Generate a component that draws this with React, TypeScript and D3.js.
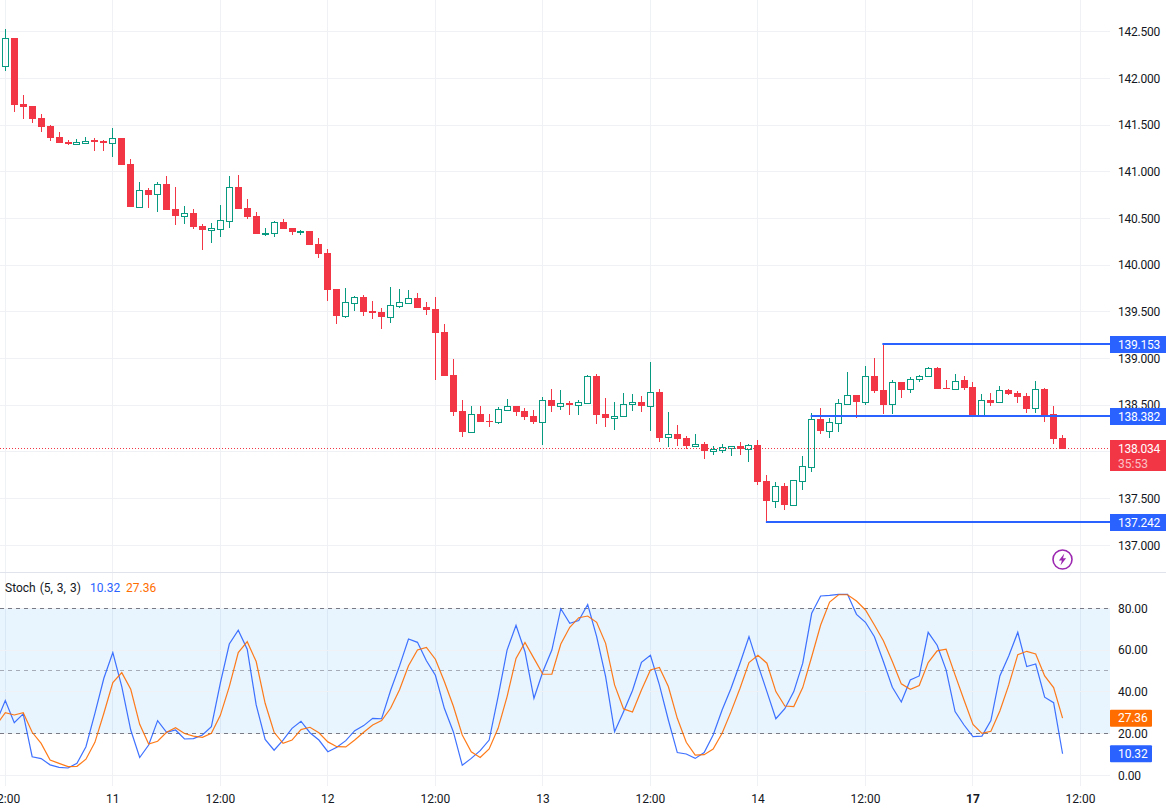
import React, { useEffect, useRef } from 'react';
import * as d3 from 'd3';

const WIDTH = 1166;
const HEIGHT = 809;
const AXIS_X = 1110;

const opens = [
  142.136, 142.432, 141.726, 141.704, 141.576, 141.49, 141.372, 141.319, 141.301, 141.312,
  141.34, 141.329, 141.312, 141.362, 141.083, 140.626, 140.805, 140.758, 140.869, 140.601,
  140.53, 140.559, 140.419, 140.38, 140.387, 140.477, 140.837, 140.612, 140.527, 140.334,
  140.341, 140.462, 140.398, 140.359, 140.366, 140.227, 140.131, 139.745, 139.46, 139.599,
  139.66, 139.51, 139.499, 139.449, 139.567, 139.599, 139.649, 139.553, 139.531, 139.285,
  138.825, 138.439, 138.218, 138.407, 138.332, 138.325, 138.453, 138.493, 138.439, 138.386,
  138.325, 138.557, 138.496, 138.525, 138.507, 138.528, 138.814, 138.407, 138.367, 138.382,
  138.51, 138.535, 138.496, 138.642, 138.157, 138.193, 138.15, 138.068, 138.085, 138.014,
  138.025, 138.046, 138.064, 138.035, 138.075, 137.689, 137.479, 137.636, 137.436, 137.693,
  137.843, 138.353, 138.228, 138.314, 138.517, 138.61, 138.539, 138.81, 138.66, 138.51,
  138.746, 138.671, 138.785, 138.817, 138.899, 138.681, 138.678, 138.767, 138.696, 138.385,
  138.557, 138.532, 138.664, 138.631, 138.599, 138.467, 138.674, 138.407, 138.15,
];
const highs = [
  142.525, 142.432, 141.822, 141.704, 141.619, 141.501, 141.426, 141.34, 141.351, 141.372,
  141.362, 141.34, 141.469, 141.362, 141.137, 140.89, 140.826, 140.89, 140.955, 140.837,
  140.634, 140.601, 140.441, 140.452, 140.644, 140.955, 140.965, 140.709, 140.569, 140.398,
  140.473, 140.494, 140.398, 140.377, 140.366, 140.291, 140.174, 139.745, 139.756, 139.67,
  139.681, 139.617, 139.542, 139.767, 139.745, 139.735, 139.702, 139.606, 139.66, 139.371,
  138.996, 138.557, 138.493, 138.493, 138.407, 138.482, 138.568, 138.493, 138.471, 138.45,
  138.589, 138.675, 138.664, 138.546, 138.557, 138.825, 138.835, 138.578, 138.535, 138.632,
  138.621, 138.599, 138.963, 138.674, 138.428, 138.289, 138.171, 138.193, 138.107, 138.064,
  138.085, 138.061, 138.107, 138.085, 138.128, 137.754, 137.679, 137.668, 137.7, 137.957,
  138.417, 138.471, 138.364, 138.567, 138.856, 138.61, 138.921, 139.006, 139.156, 138.767,
  138.746, 138.799, 138.824, 138.906, 138.906, 138.771, 138.835, 138.813, 138.749, 138.621,
  138.631, 138.706, 138.674, 138.653, 138.631, 138.76, 138.685, 138.492, 138.182,
];
const lows = [
  142.083, 141.644, 141.569, 141.526, 141.429, 141.333, 141.308, 141.287, 141.301, 141.297,
  141.222, 141.222, 141.162, 141.073, 140.623, 140.626, 140.612, 140.569, 140.591, 140.43,
  140.441, 140.387, 140.163, 140.237, 140.302, 140.398, 140.601, 140.494, 140.334, 140.312,
  140.302, 140.387, 140.323, 140.327, 140.216, 140.077, 139.617, 139.371, 139.435, 139.51,
  139.456, 139.424, 139.317, 139.381, 139.542, 139.599, 139.542, 139.467, 138.771, 138.814,
  138.386, 138.161, 138.204, 138.321, 138.268, 138.3, 138.453, 138.386, 138.343, 138.3,
  138.075, 138.428, 138.45, 138.396, 138.396, 138.528, 138.3, 138.268, 138.235, 138.382,
  138.439, 138.428, 138.225, 138.107, 138.053, 138.064, 138.032, 138.053, 137.925, 137.968,
  137.989, 137.957, 137.968, 137.893, 137.647, 137.242, 137.4, 137.379, 137.436, 137.593,
  137.786, 138.193, 138.15, 138.214, 138.517, 138.36, 138.507, 138.635, 138.407, 138.407,
  138.578, 138.631, 138.753, 138.799, 138.674, 138.674, 138.678, 138.664, 138.378, 138.385,
  138.492, 138.532, 138.61, 138.524, 138.417, 138.417, 138.321, 138.085, 138.034,
];
const closes = [
  142.429, 141.719, 141.693, 141.565, 141.479, 141.362, 141.308, 141.297, 141.319, 141.333,
  141.319, 141.308, 141.358, 141.073, 140.623, 140.801, 140.751, 140.865, 140.591, 140.527,
  140.555, 140.409, 140.377, 140.398, 140.48, 140.833, 140.601, 140.516, 140.334, 140.344,
  140.459, 140.387, 140.355, 140.37, 140.216, 140.12, 139.735, 139.456, 139.603, 139.656,
  139.499, 139.488, 139.445, 139.57, 139.603, 139.645, 139.542, 139.521, 139.274, 138.814,
  138.428, 138.214, 138.403, 138.321, 138.321, 138.457, 138.489, 138.428, 138.375, 138.321,
  138.553, 138.493, 138.521, 138.503, 138.532, 138.814, 138.396, 138.364, 138.382, 138.51,
  138.532, 138.492, 138.639, 138.15, 138.189, 138.139, 138.064, 138.085, 138.011, 138.032,
  138.05, 138.061, 138.032, 138.071, 137.679, 137.475, 137.632, 137.432, 137.696, 137.846,
  138.35, 138.225, 138.317, 138.521, 138.607, 138.535, 138.81, 138.653, 138.507, 138.746,
  138.667, 138.785, 138.817, 138.896, 138.674, 138.674, 138.764, 138.685, 138.378, 138.553,
  138.524, 138.66, 138.621, 138.589, 138.46, 138.671, 138.396, 138.139, 138.034,
];

// first value of both stoch lines belongs to the bar just left of the frame
const stochK = [
  25.5, 35.8, 25.2, 29.4, 8.9, 8.0, 5.0, 3.8, 3.5, 5.7,
  13.7, 29.7, 46.5, 58.8, 42.5, 21.7, 8.5, 14.5, 26.2, 20.6,
  21.7, 17.4, 17.6, 19.3, 23.3, 44.1, 62.9, 69.5, 60.4, 33.7,
  17.2, 12.0, 16.9, 22.5, 25.9, 20.4, 16.9, 11.3, 13.4, 16.6,
  21.4, 23.8, 27.3, 27.1, 40.6, 52.4, 65.3, 63.7, 54.9, 47.9,
  32.1, 20.9, 4.8, 8.1, 11.8, 16.9, 37.7, 60.0, 71.9, 59.2,
  36.9, 49.7, 60.0, 79.8, 72.8, 74.1, 81.8, 66.4, 47.3, 20.9,
  30.5, 40.6, 54.1, 57.5, 43.3, 26.5, 10.9, 10.2, 8.1, 10.9,
  19.3, 31.3, 41.7, 53.7, 66.4, 52.9, 40.1, 27.1, 31.9, 40.1,
  53.7, 77.6, 85.9, 86.2, 86.7, 86.7, 77.1, 73.3, 66.4, 54.5,
  42.2, 35.1, 45.7, 47.6, 68.5, 62.3, 50.5, 30.5, 24.1, 18.5,
  18.8, 26.2, 47.6, 57.3, 68.5, 52.1, 53.3, 37.4, 34.8, 10.32,
];
const stochD = [
  24.1, 30.0, 28.9, 30.0, 20.6, 15.3, 7.3, 5.7, 4.2, 4.3,
  7.7, 15.8, 29.7, 44.4, 49.2, 41.2, 24.4, 15.0, 16.3, 20.6,
  22.8, 20.0, 18.8, 18.2, 20.1, 28.7, 42.5, 58.8, 64.0, 54.5,
  34.5, 20.6, 15.3, 16.9, 21.9, 23.0, 20.4, 16.0, 13.7, 13.6,
  16.9, 20.6, 24.1, 26.2, 32.1, 41.0, 52.5, 60.0, 61.3, 55.6,
  44.9, 33.2, 19.3, 11.3, 8.5, 12.6, 22.5, 37.7, 56.0, 63.6,
  56.0, 48.4, 48.4, 62.9, 70.9, 75.5, 76.3, 73.3, 63.2, 43.3,
  31.8, 30.3, 40.9, 50.5, 51.7, 42.5, 27.3, 15.8, 9.7, 9.9,
  12.6, 20.1, 30.5, 41.7, 54.0, 57.5, 53.7, 40.1, 33.2, 32.9,
  42.0, 56.8, 72.0, 83.0, 86.5, 86.5, 83.5, 79.2, 72.0, 64.5,
  54.5, 43.8, 41.2, 43.0, 54.0, 59.6, 60.4, 48.1, 36.1, 24.4,
  20.1, 21.1, 30.8, 43.3, 57.8, 59.4, 58.1, 47.6, 42.0, 27.36,
];

const priceTicks = [137, 137.5, 138, 138.5, 139, 139.5, 140, 140.5, 141, 141.5, 142, 142.5];
const stochTicks = [0, 20, 40, 60, 80];
const timeLabels = ['12:00', '11', '12:00', '12', '12:00', '13', '12:00', '14', '12:00', '17', '12:00'];
const boldLabels = ['17'];

// swing levels: price and the bar they start from
const levelPrices = [139.153, 138.382, 137.242];
const levelBars = [98, 90, 85];
const lastPrice = 138.034;
const countdown = '35:53';

const BLUE = '#2962FF';
const ORANGE = '#FF6D00';
const RED = '#F23645';
const GREEN = '#089981';
const GRID = '#F0F1F4';
const FONT = 'Roboto, sans-serif';

export default function App() {
  const ref = useRef<SVGSVGElement>(null);

  useEffect(() => {
    if (!ref.current) return;
    document.body.style.margin = '0';
    const svg = d3.select(ref.current);
    svg.selectAll('*').remove();

    const x = d3.scaleLinear().domain([0, 120]).range([5.3, 5.3 + 8.96 * 120]);
    const y = d3.scaleLinear().domain([137, 142.5]).range([545.3, 31.7]);
    const yStoch = d3.scaleLinear().domain([0, 80]).range([775.3, 608.3]);
    const snap = (v: number) => Math.floor(v) + 0.5;

    svg
      .append('defs')
      .append('clipPath')
      .attr('id', 'plot')
      .append('rect')
      .attr('width', AXIS_X)
      .attr('height', HEIGHT);

    const plot = svg.append('g').attr('clip-path', 'url(#plot)');

    // vertical grid, one line per time label
    timeLabels.forEach((_, i) => {
      plot
        .append('line')
        .attr('x1', snap(x(i * 12)))
        .attr('x2', snap(x(i * 12)))
        .attr('y1', 0)
        .attr('y2', 786)
        .attr('stroke', GRID);
    });
    priceTicks.forEach((t) => {
      plot.append('line').attr('x1', 0).attr('x2', AXIS_X).attr('y1', snap(y(t))).attr('y2', snap(y(t))).attr('stroke', GRID);
    });

    // pane divider
    svg.append('line').attr('x1', 0).attr('x2', WIDTH).attr('y1', 572.5).attr('y2', 572.5).attr('stroke', '#E0E3EB');

    // stoch band
    plot
      .append('rect')
      .attr('x', 0)
      .attr('y', yStoch(80))
      .attr('width', AXIS_X)
      .attr('height', yStoch(20) - yStoch(80))
      .attr('fill', '#2196F3')
      .attr('fill-opacity', 0.1);
    stochTicks.forEach((t) => {
      plot.append('line').attr('x1', 0).attr('x2', AXIS_X).attr('y1', snap(yStoch(t))).attr('y2', snap(yStoch(t))).attr('stroke', GRID);
    });
    [80, 50, 20].forEach((t) => {
      plot
        .append('line')
        .attr('x1', 0)
        .attr('x2', AXIS_X)
        .attr('y1', snap(yStoch(t)))
        .attr('y2', snap(yStoch(t)))
        .attr('stroke', '#787B86')
        .attr('stroke-opacity', t === 50 ? 0.6 : 1)
        .attr('stroke-dasharray', '4 4');
    });

    const stochLine = d3
      .line<number>()
      .x((_, i) => x(i - 1))
      .y((d) => yStoch(d));
    plot.append('path').datum(stochK).attr('fill', 'none').attr('stroke', BLUE).attr('stroke-opacity', 0.9).attr('stroke-width', 1.2).attr('d', stochLine);
    plot.append('path').datum(stochD).attr('fill', 'none').attr('stroke', ORANGE).attr('stroke-opacity', 0.9).attr('stroke-width', 1.2).attr('d', stochLine);

    // candles
    const candles = plot.append('g').attr('shape-rendering', 'crispEdges');
    closes.forEach((close, i) => {
      const open = opens[i];
      const up = close >= open;
      const color = up ? GREEN : RED;
      const cx = snap(x(i));
      const top = Math.round(y(Math.max(open, close)));
      const bottom = Math.round(y(Math.min(open, close)));
      candles.append('line').attr('x1', cx).attr('x2', cx).attr('y1', y(highs[i])).attr('y2', top).attr('stroke', color);
      candles.append('line').attr('x1', cx).attr('x2', cx).attr('y1', bottom).attr('y2', y(lows[i])).attr('stroke', color);
      if (up) {
        candles
          .append('rect')
          .attr('x', cx - 3)
          .attr('y', top + 0.5)
          .attr('width', 6)
          .attr('height', Math.max(bottom - top, 1))
          .attr('fill', 'none')
          .attr('stroke', color);
      } else {
        candles
          .append('rect')
          .attr('x', cx - 3.5)
          .attr('y', top)
          .attr('width', 7)
          .attr('height', Math.max(bottom - top, 1))
          .attr('fill', color);
      }
    });

    // last price line
    plot
      .append('line')
      .attr('x1', 0)
      .attr('x2', AXIS_X)
      .attr('y1', snap(y(lastPrice)))
      .attr('y2', snap(y(lastPrice)))
      .attr('stroke', RED)
      .attr('stroke-dasharray', '1 2');

    // swing levels
    levelPrices.forEach((p, i) => {
      plot
        .append('line')
        .attr('x1', x(levelBars[i]) - 1)
        .attr('x2', AXIS_X)
        .attr('y1', Math.floor(y(p)))
        .attr('y2', Math.floor(y(p)))
        .attr('stroke', BLUE)
        .attr('stroke-width', 2);
    });

    const label = (lx: number, ly: number, text: string, fill = '#131722', weight = 400, anchor = 'start') =>
      svg
        .append('text')
        .attr('x', lx)
        .attr('y', ly)
        .attr('dy', '0.35em')
        .attr('font-family', FONT)
        .attr('font-size', 12)
        .attr('font-weight', weight)
        .attr('fill', fill)
        .attr('text-anchor', anchor)
        .text(text);

    // the tick right under the last price tag is hidden on the axis
    priceTicks
      .filter((t) => Math.abs(y(t) - y(lastPrice)) > 9)
      .forEach((t) => label(1118, y(t), t.toFixed(3)).attr('letter-spacing', -0.25));
    stochTicks.forEach((t) => label(1118, yStoch(t), t.toFixed(2)).attr('letter-spacing', -0.1));
    timeLabels.forEach((t, i) => label(x(i * 12), 799, t, '#131722', boldLabels.includes(t) ? 700 : 400, 'middle'));

    // stoch legend
    label(5, 588, 'Stoch (5, 3, 3)').attr('word-spacing', 1);
    label(90, 588, stochK[stochK.length - 1].toFixed(2), BLUE);
    label(126, 588, stochD[stochD.length - 1].toFixed(2), ORANGE);

    // price tags
    levelPrices.forEach((p) => {
      const cy = Math.floor(y(p));
      svg.append('rect').attr('x', AXIS_X).attr('y', cy - 8).attr('width', 56).attr('height', 17).attr('fill', BLUE);
      label(1118, cy + 0.5, p.toFixed(3), '#fff').attr('letter-spacing', -0.25);
    });
    const lastY = Math.round(y(lastPrice));
    svg.append('rect').attr('x', AXIS_X).attr('y', lastY - 9).attr('width', 56).attr('height', 31).attr('fill', RED);
    label(1118, lastY, lastPrice.toFixed(3), '#fff').attr('letter-spacing', -0.25);
    label(1118, lastY + 15, countdown, '#fff').attr('fill-opacity', 0.7);

    [
      { value: stochD[stochD.length - 1], color: ORANGE },
      { value: stochK[stochK.length - 1], color: BLUE },
    ].forEach(({ value, color }) => {
      const cy = yStoch(value);
      svg.append('rect').attr('x', AXIS_X).attr('y', cy - 8.5).attr('width', 42).attr('height', 17).attr('rx', 1).attr('fill', color);
      label(1118, cy, value.toFixed(2), '#fff').attr('letter-spacing', -0.1);
    });

    // replay badge
    const badge = svg.append('g').attr('transform', 'translate(1062.5,559.5)');
    badge.append('circle').attr('r', 9.5).attr('fill', '#fff').attr('stroke', '#9C27B0').attr('stroke-width', 1.6);
    badge.append('path').attr('d', 'M1.8,-6 L-3.6,1 L-0.6,1 L-2,6 L3.6,-1.2 L0.5,-1.2 Z').attr('fill', '#9C27B0');
  }, []);

  return <svg ref={ref} width={WIDTH} height={HEIGHT} style={{ display: 'block' }}></svg>;
}
